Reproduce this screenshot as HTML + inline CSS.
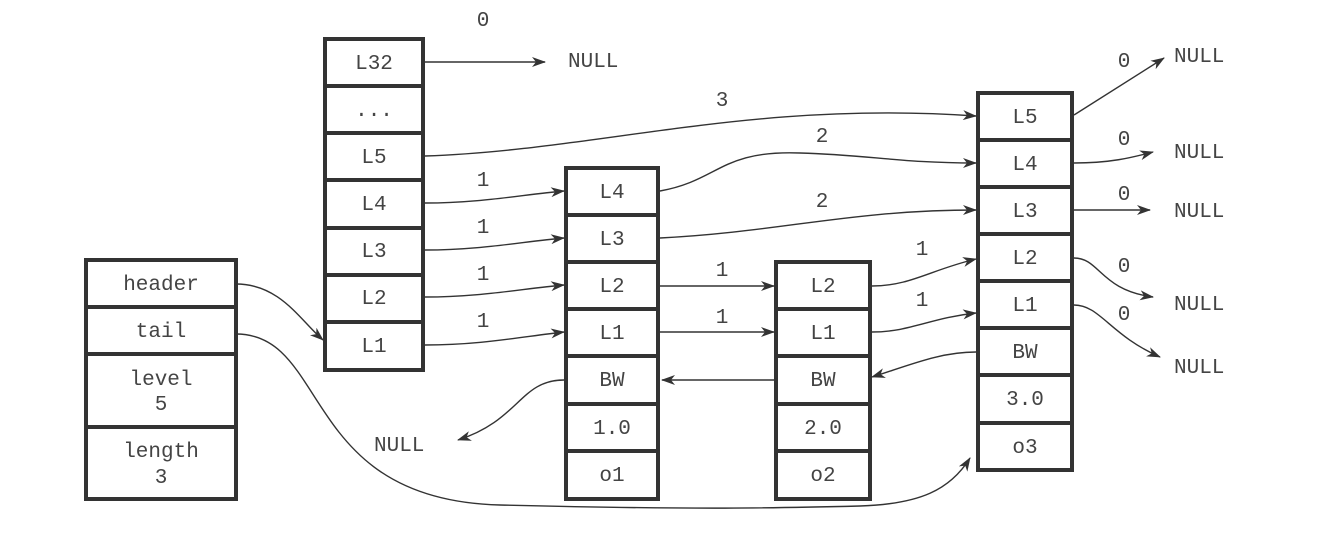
<!DOCTYPE html>
<html><head><style>body{margin:0;background:#fff}</style></head><body>
<svg width="1337" height="532" xmlns="http://www.w3.org/2000/svg" font-family="Liberation Mono, monospace" font-size="21" fill="#444">
<defs><marker id="a" markerWidth="14" markerHeight="10" refX="13" refY="5" orient="auto" markerUnits="userSpaceOnUse"><path d="M0,0 L14,5 L0,10 L4,5z" fill="#333"/></marker></defs>
<g fill="none" stroke="#333" stroke-width="4">
<rect x="86" y="260" width="150" height="239"/>
<path d="M86 307H236M86 354H236M86 427H236"/>
<rect x="325" y="39" width="98" height="331"/>
<path d="M325 86H423M325 133H423M325 180H423M325 228H423M325 275H423M325 322H423"/>
<rect x="566" y="168" width="92" height="331"/>
<path d="M566 215H658M566 262H658M566 309H658M566 356H658M566 404H658M566 451H658"/>
<rect x="776" y="262" width="94" height="237"/>
<path d="M776 309H870M776 356H870M776 404H870M776 451H870"/>
<rect x="978" y="93" width="94" height="377"/>
<path d="M978 140H1072M978 187H1072M978 234H1072M978 281H1072M978 328H1072M978 375H1072M978 423H1072"/>
</g>
<g text-anchor="middle">
<text x="161" y="290">header</text><text x="161" y="337">tail</text><text x="161" y="385">level</text><text x="161" y="410">5</text><text x="161" y="457">length</text><text x="161" y="483">3</text>
<text x="374" y="69">L32</text><text x="374" y="116">...</text><text x="374" y="163">L5</text><text x="374" y="210">L4</text><text x="374" y="257">L3</text><text x="374" y="304">L2</text><text x="374" y="352">L1</text>
<text x="612" y="198">L4</text><text x="612" y="245">L3</text><text x="612" y="292">L2</text><text x="612" y="339">L1</text><text x="612" y="386">BW</text><text x="612" y="434">1.0</text><text x="612" y="481">o1</text>
<text x="823" y="292">L2</text><text x="823" y="339">L1</text><text x="823" y="386">BW</text><text x="823" y="434">2.0</text><text x="823" y="481">o2</text>
<text x="1025" y="123">L5</text><text x="1025" y="170">L4</text><text x="1025" y="217">L3</text><text x="1025" y="264">L2</text><text x="1025" y="311">L1</text><text x="1025" y="358">BW</text><text x="1025" y="405">3.0</text><text x="1025" y="453">o3</text>
<text x="483" y="26">0</text><text x="722" y="106">3</text><text x="822" y="142">2</text><text x="822" y="207">2</text>
<text x="483" y="186">1</text><text x="483" y="233">1</text><text x="483" y="280">1</text><text x="483" y="327">1</text>
<text x="722" y="276">1</text><text x="722" y="323">1</text><text x="922" y="255">1</text><text x="922" y="306">1</text>
<text x="1124" y="67">0</text><text x="1124" y="145">0</text><text x="1124" y="200">0</text><text x="1124" y="272">0</text><text x="1124" y="320">0</text>
</g>
<g font-size="21">
<text x="568" y="67">NULL</text><text x="1174" y="62">NULL</text><text x="1174" y="158">NULL</text><text x="1174" y="217">NULL</text><text x="1174" y="310">NULL</text><text x="1174" y="373">NULL</text><text x="374" y="451">NULL</text>
</g>
<g fill="none" stroke="#333" stroke-width="1.4" marker-end="url(#a)">
<path d="M425 62H545"/>
<path d="M425 156C600 150 750 100 976 116"/>
<path d="M425 203C480 203 520 195 564 191"/>
<path d="M425 250C480 250 520 242 564 238"/>
<path d="M425 297C480 297 520 289 564 285"/>
<path d="M425 345C480 345 520 337 564 332"/>
<path d="M660 191C720 180 720 150 800 153C870 155 900 163 976 163"/>
<path d="M660 238C780 232 850 210 976 210"/>
<path d="M660 286H774"/><path d="M660 332H774"/>
<path d="M872 286C910 286 930 270 976 259"/>
<path d="M872 332C910 332 930 318 976 313"/>
<path d="M976 352C940 352 910 365 872 377"/>
<path d="M774 380H662"/>
<path d="M564 380C520 380 520 420 458 440"/>
<path d="M236 284C280 284 300 320 323 340"/>
<path d="M236 334C330 334 300 500 500 505C700 510 780 508 860 506C920 504 950 490 970 458"/>
<path d="M1074 115L1164 58"/>
<path d="M1074 163C1110 163 1130 158 1153 152"/>
<path d="M1074 210H1150"/>
<path d="M1074 258C1100 258 1100 290 1153 297"/>
<path d="M1074 305C1100 305 1110 335 1160 357"/>
</g>
</svg>
</body></html>
